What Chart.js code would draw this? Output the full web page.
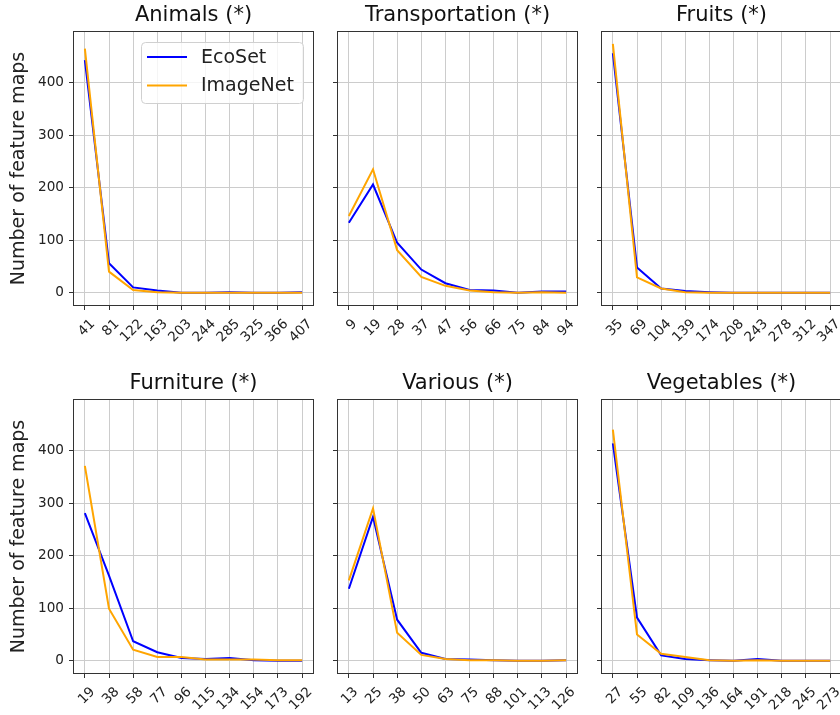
<!DOCTYPE html>
<html>
<head>
<meta charset="utf-8">
<script src="https://cdn.jsdelivr.net/npm/chart.js@4.4.1/dist/chart.umd.min.js"></script>
<style>
  html, body { margin: 0; padding: 0; background: #fff; width: 840px; height: 715px; overflow: hidden; }
  canvas { position: absolute; }
</style>
</head>
<body>
<canvas id="animals"></canvas>
<canvas id="transport"></canvas>
<canvas id="fruits"></canvas>
<canvas id="furniture"></canvas>
<canvas id="various"></canvas>
<canvas id="vegetables"></canvas>
<script>
// values
const seriesNames = ["EcoSet", "ImageNet"];
const yTicks = [0, 100, 200, 300, 400];
const yLabel = "Number of feature maps";

const animalsTicks = ["41", "81", "122", "163", "203", "244", "285", "325", "366", "407"];
const animalsEco = [443, 56, 10, 4, 0, 0, 1, 0, 0, 1];
const animalsImg = [465, 40, 5, 1, 0, 0, 0, 0, 0, 0];

const transportTicks = ["9", "19", "28", "37", "47", "56", "66", "75", "84", "94"];
const transportEco = [133, 206, 95, 44, 18, 5, 4, 0, 2, 2];
const transportImg = [146, 235, 81, 30, 13, 4, 1, 0, 1, 0];

const fruitsTicks = ["35", "69", "104", "139", "174", "208", "243", "278", "312", "347"];
const fruitsEco = [456, 48, 8, 3, 1, 0, 0, 0, 0, 0];
const fruitsImg = [474, 29, 8, 1, 0, 0, 0, 0, 0, 0];

const furnitureTicks = ["19", "38", "58", "77", "96", "115", "134", "154", "173", "192"];
const furnitureEco = [281, 162, 37, 16, 5, 3, 5, 1, 0, 0];
const furnitureImg = [371, 99, 21, 7, 7, 2, 2, 2, 1, 1];

const variousTicks = ["13", "25", "38", "50", "63", "75", "88", "101", "113", "126"];
const variousEco = [137, 274, 78, 15, 3, 2, 1, 0, 0, 1];
const variousImg = [153, 290, 53, 11, 3, 1, 1, 0, 0, 1];

const vegTicks = ["27", "55", "82", "109", "136", "164", "191", "218", "245", "273"];
const vegEco = [414, 82, 10, 3, 1, 0, 3, 0, 0, 0];
const vegImg = [440, 50, 13, 7, 1, 0, 1, 0, 0, 0];

Chart.defaults.font.family = "'DejaVu Sans', sans-serif";

// frame (all four spines) + matplotlib-style legend box
const framePlugin = {
  id: "frameLegend",
  afterDatasetsDraw(chart, args, opts) {
    const { ctx, chartArea: a } = chart;
    ctx.save();
    ctx.strokeStyle = "#333";
    ctx.lineWidth = 1;
    ctx.strokeRect(a.left - 0.5, a.top - 0.5, a.right - a.left + 1, a.bottom - a.top + 1);
    if (opts.show) {
      const w = 162, h = 61;
      const x0 = a.right - 10 - w, y0 = a.top + 10;
      ctx.beginPath();
      ctx.roundRect(x0 + 0.5, y0 + 0.5, w, h, 4);
      ctx.fillStyle = "rgba(255,255,255,0.8)";
      ctx.fill();
      ctx.strokeStyle = "#d0d0d0";
      ctx.stroke();
      chart.data.datasets.forEach((ds, i) => {
        const y = y0 + 15 + i * 28.5;
        ctx.beginPath();
        ctx.moveTo(x0 + 6, y);
        ctx.lineTo(x0 + 46, y);
        ctx.strokeStyle = ds.borderColor;
        ctx.lineWidth = 2;
        ctx.stroke();
        ctx.fillStyle = "#222";
        ctx.font = "19px 'DejaVu Sans'";
        ctx.textBaseline = "middle";
        ctx.fillText(ds.label, x0 + 60, y + 1);
      });
    }
    ctx.restore();
  }
};

function makePanel(id, title, ticks, eco, img, left, top, showY, legend) {
  const canvas = document.getElementById(id);
  canvas.width = 333;
  canvas.height = 345;
  canvas.style.left = (left - 74) + "px";
  canvas.style.top = (top - 32) + "px";
  const avgLen = ticks.reduce((s, t) => s + t.length, 0) / ticks.length;

  return new Chart(canvas, {
    type: "line",
    data: {
      datasets: [
        { label: seriesNames[0], data: eco.map((v, i) => ({ x: i, y: v })), borderColor: "#0000ff", order: 1 },
        { label: seriesNames[1], data: img.map((v, i) => ({ x: i, y: v })), borderColor: "#ffa500", order: 0 }
      ]
    },
    options: {
      responsive: false,
      animation: false,
      layout: { padding: { right: 20 } },
      elements: { line: { borderWidth: 2, tension: 0 }, point: { radius: 0 } },
      plugins: {
        legend: { display: false },
        tooltip: { enabled: false },
        title: {
          display: true, text: title, fullSize: false, color: "#111",
          font: { size: 21, weight: "normal", lineHeight: "24px" },
          padding: { top: 4, bottom: 4 }
        },
        frameLegend: { show: legend }
      },
      scales: {
        x: {
          type: "linear", min: -0.45, max: 9.45,
          afterBuildTicks: s => { s.ticks = ticks.map((t, i) => ({ value: i })); },
          afterFit: s => { s.height = 40; },
          ticks: {
            callback: v => ticks[v],
            autoSkip: false,
            minRotation: 45, maxRotation: 45,
            labelOffset: Math.round(avgLen * 3),
            padding: 6, color: "#222", font: { size: 13.6 }
          },
          grid: { color: "#cccccc", tickColor: "#333", tickLength: 5 },
          border: { display: false }
        },
        y: {
          min: -23.5, max: 496.5,
          afterBuildTicks: s => { s.ticks = yTicks.map(v => ({ value: v })); },
          afterFit: s => { s.width = 74; },
          ticks: { display: showY, padding: 5, color: "#222", font: { size: 13.6 } },
          title: { display: showY, text: yLabel, color: "#222", font: { size: 19 }, padding: { top: 8 } },
          grid: { color: "#cccccc", tickColor: "#333", tickLength: 5 },
          border: { display: false }
        }
      }
    },
    plugins: [framePlugin]
  });
}

makePanel("animals", "Animals (*)", animalsTicks, animalsEco, animalsImg, 74, 32, true, true);
makePanel("transport", "Transportation (*)", transportTicks, transportEco, transportImg, 338, 32, false, false);
makePanel("fruits", "Fruits (*)", fruitsTicks, fruitsEco, fruitsImg, 602, 32, false, false);
makePanel("furniture", "Furniture (*)", furnitureTicks, furnitureEco, furnitureImg, 74, 400, true, false);
makePanel("various", "Various (*)", variousTicks, variousEco, variousImg, 338, 400, false, false);
makePanel("vegetables", "Vegetables (*)", vegTicks, vegEco, vegImg, 602, 400, false, false);
</script>
</body>
</html>
